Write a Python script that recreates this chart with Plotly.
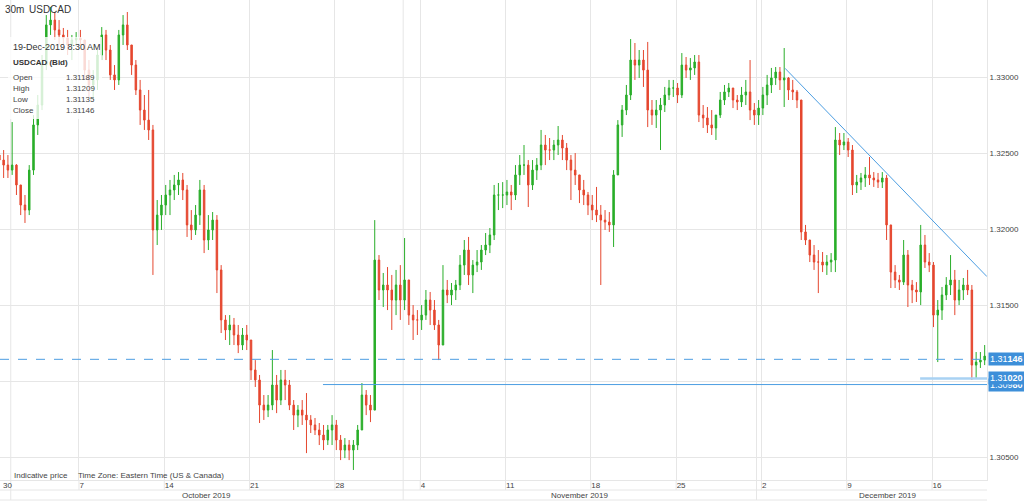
import plotly.graph_objects as go

# USDCAD bid, resampled to 6-hour bars.
# Bars start Sunday 17:00 ET, 20 bars per trading week, weekends removed.
# One row per week (30 Sep ... 16 Dec); the last week stops at 19 Dec 08:30.
FIRST_OPEN = 1.32480

high = [
    1.32523, 1.32536, 1.32556, 1.32523, 1.32490, 1.32707, 1.32430, 1.32293, 1.32227, 1.32424, 1.32753, 1.32885, 1.33148, 1.33411, 1.33464, 1.33431, 1.33378, 1.33326, 1.33313, 1.33280,
    1.33299, 1.33313, 1.33247, 1.33115, 1.33049, 1.33181, 1.33332, 1.33313, 1.33214, 1.33082, 1.33313, 1.33411, 1.33431, 1.33214, 1.33115, 1.32984, 1.32885, 1.32918, 1.32688, 1.32194,
    1.32227, 1.32293, 1.32326, 1.32359, 1.32378, 1.32372, 1.32293, 1.32128, 1.32161, 1.32326, 1.32293, 1.32095, 1.32115, 1.32095, 1.31766, 1.31437, 1.31437, 1.31418, 1.31372, 1.31352,
    1.31372, 1.31273, 1.31141, 1.31043, 1.30911, 1.30911, 1.31207, 1.31043, 1.31076, 1.31076, 1.31010, 1.30878, 1.30845, 1.30878, 1.30924, 1.30779, 1.30760, 1.30727, 1.30714, 1.30714,
    1.30779, 1.30747, 1.30648, 1.30628, 1.30615, 1.30615, 1.30714, 1.30990, 1.30944, 1.30911, 1.32062, 1.31832, 1.31714, 1.31753, 1.31701, 1.31734, 1.31766, 1.31944, 1.31668, 1.31503,
    1.31470, 1.31503, 1.31602, 1.31589, 1.31536, 1.31405, 1.31766, 1.31668, 1.31648, 1.31668, 1.31832, 1.31931, 1.31951, 1.31799, 1.31865, 1.31898, 1.31977, 1.32010, 1.32293, 1.32306,
    1.32312, 1.32326, 1.32293, 1.32424, 1.32490, 1.32556, 1.32457, 1.32457, 1.32470, 1.32655, 1.32622, 1.32602, 1.32589, 1.32681, 1.32622, 1.32569, 1.32490, 1.32503, 1.32359, 1.32326,
    1.32247, 1.32227, 1.32280, 1.32161, 1.32128, 1.32115, 1.32391, 1.32720, 1.32819, 1.32951, 1.33253, 1.33227, 1.33181, 1.33181, 1.33234, 1.32852, 1.32852, 1.32865, 1.32938, 1.32984,
    1.32984, 1.32964, 1.33161, 1.33135, 1.33128, 1.33148, 1.33148, 1.32819, 1.32806, 1.32786, 1.32753, 1.32905, 1.32951, 1.32964, 1.32931, 1.32885, 1.32938, 1.32984, 1.33115, 1.32832,
    1.32852, 1.32938, 1.33017, 1.33063, 1.33069, 1.33069, 1.33194, 1.33003, 1.32984, 1.32918, 1.32852, 1.32030, 1.31931, 1.31898, 1.31865, 1.31852, 1.31832, 1.31845, 1.32674, 1.32635,
    1.32635, 1.32602, 1.32556, 1.32359, 1.32372, 1.32411, 1.32477, 1.32378, 1.32372, 1.32378, 1.32359, 1.32030, 1.31766, 1.31701, 1.31931, 1.31865, 1.31668, 1.31654, 1.32030, 1.31964,
    1.31845, 1.31786, 1.31536, 1.31622, 1.31687, 1.31832, 1.31734, 1.31668, 1.31681, 1.31734, 1.31635, 1.31194, 1.31194, 1.31240, 1.31240,
]

low = [
    1.32424, 1.32405, 1.32326, 1.32339, 1.32339, 1.32359, 1.32227, 1.32095, 1.32043, 1.32095, 1.32359, 1.32622, 1.32786, 1.33049, 1.33280, 1.33247, 1.33214, 1.33181, 1.33148, 1.33115,
    1.33214, 1.33214, 1.32984, 1.32872, 1.32852, 1.32918, 1.33115, 1.33115, 1.32984, 1.32918, 1.32951, 1.33214, 1.33181, 1.33017, 1.32885, 1.32688, 1.32655, 1.32589, 1.31701, 1.31898,
    1.31997, 1.32095, 1.32095, 1.32194, 1.32227, 1.32194, 1.31951, 1.31931, 1.31964, 1.32030, 1.31845, 1.31865, 1.31931, 1.31582, 1.31319, 1.31273, 1.31240, 1.31240, 1.31187, 1.31207,
    1.31207, 1.31010, 1.30964, 1.30727, 1.30747, 1.30766, 1.30812, 1.30792, 1.30845, 1.30878, 1.30812, 1.30681, 1.30700, 1.30714, 1.30529, 1.30661, 1.30648, 1.30582, 1.30549, 1.30582,
    1.30582, 1.30549, 1.30483, 1.30496, 1.30483, 1.30418, 1.30549, 1.30681, 1.30779, 1.30733, 1.30812, 1.31536, 1.31490, 1.31470, 1.31339, 1.31437, 1.31405, 1.31470, 1.31372, 1.31273,
    1.31306, 1.31339, 1.31405, 1.31372, 1.31339, 1.31141, 1.31240, 1.31516, 1.31503, 1.31536, 1.31602, 1.31701, 1.31635, 1.31582, 1.31720, 1.31734, 1.31832, 1.31845, 1.31931, 1.32128,
    1.32141, 1.32161, 1.32128, 1.32194, 1.32293, 1.32359, 1.32148, 1.32260, 1.32326, 1.32391, 1.32424, 1.32457, 1.32457, 1.32490, 1.32457, 1.32391, 1.32194, 1.32293, 1.32174, 1.32161,
    1.32095, 1.32062, 1.32049, 1.31635, 1.31997, 1.31984, 1.31885, 1.32359, 1.32609, 1.32753, 1.32852, 1.32984, 1.32997, 1.32938, 1.32674, 1.32688, 1.32668, 1.32523, 1.32773, 1.32852,
    1.32872, 1.32832, 1.32865, 1.32997, 1.32984, 1.33017, 1.32707, 1.32668, 1.32635, 1.32622, 1.32589, 1.32734, 1.32819, 1.32872, 1.32799, 1.32786, 1.32806, 1.32819, 1.32720, 1.32688,
    1.32688, 1.32753, 1.32819, 1.32898, 1.32951, 1.32918, 1.32806, 1.32852, 1.32852, 1.32799, 1.31931, 1.31898, 1.31786, 1.31734, 1.31582, 1.31720, 1.31701, 1.31720, 1.31720, 1.32490,
    1.32523, 1.32477, 1.32227, 1.32240, 1.32260, 1.32280, 1.32293, 1.32280, 1.32273, 1.32273, 1.31931, 1.31615, 1.31615, 1.31602, 1.31635, 1.31490, 1.31516, 1.31523, 1.31503, 1.31747,
    1.31720, 1.31358, 1.31128, 1.31405, 1.31536, 1.31569, 1.31437, 1.31503, 1.31536, 1.31569, 1.31010, 1.31023, 1.31089, 1.31108, 1.31108,
]

close = [
    1.32470, 1.32490, 1.32457, 1.32424, 1.32391, 1.32424, 1.32293, 1.32161, 1.32128, 1.32391, 1.32688, 1.32819, 1.33082, 1.33346, 1.33378, 1.33313, 1.33280, 1.33260, 1.33214, 1.33247,
    1.33260, 1.33247, 1.33049, 1.32951, 1.32984, 1.33148, 1.33280, 1.33181, 1.33017, 1.32984, 1.33280, 1.33346, 1.33214, 1.33082, 1.32918, 1.32786, 1.32720, 1.32655, 1.31997, 1.32095,
    1.32161, 1.32227, 1.32260, 1.32293, 1.32326, 1.32260, 1.32030, 1.31997, 1.32095, 1.32260, 1.31931, 1.31997, 1.32062, 1.31734, 1.31405, 1.31339, 1.31372, 1.31306, 1.31240, 1.31306,
    1.31273, 1.31076, 1.31010, 1.30845, 1.30812, 1.30845, 1.30977, 1.30878, 1.31010, 1.30977, 1.30845, 1.30779, 1.30812, 1.30779, 1.30747, 1.30714, 1.30681, 1.30648, 1.30615, 1.30681,
    1.30714, 1.30615, 1.30549, 1.30582, 1.30549, 1.30582, 1.30681, 1.30911, 1.30845, 1.30812, 1.31799, 1.31602, 1.31635, 1.31602, 1.31536, 1.31635, 1.31536, 1.31668, 1.31437, 1.31405,
    1.31405, 1.31437, 1.31536, 1.31470, 1.31372, 1.31240, 1.31602, 1.31569, 1.31602, 1.31635, 1.31766, 1.31865, 1.31701, 1.31766, 1.31786, 1.31865, 1.31898, 1.31964, 1.32227, 1.32227,
    1.32227, 1.32247, 1.32227, 1.32359, 1.32424, 1.32424, 1.32293, 1.32391, 1.32424, 1.32556, 1.32523, 1.32523, 1.32556, 1.32589, 1.32536, 1.32457, 1.32391, 1.32359, 1.32260, 1.32227,
    1.32161, 1.32128, 1.32095, 1.32062, 1.32049, 1.32030, 1.32359, 1.32688, 1.32786, 1.32885, 1.33115, 1.33082, 1.33115, 1.33049, 1.32786, 1.32753, 1.32786, 1.32819, 1.32885, 1.32931,
    1.32931, 1.32885, 1.33082, 1.33049, 1.33063, 1.33102, 1.32753, 1.32734, 1.32688, 1.32668, 1.32753, 1.32852, 1.32905, 1.32931, 1.32852, 1.32839, 1.32885, 1.32905, 1.32786, 1.32753,
    1.32799, 1.32885, 1.32951, 1.32997, 1.33036, 1.32984, 1.32997, 1.32918, 1.32905, 1.32852, 1.31984, 1.31931, 1.31832, 1.31786, 1.31786, 1.31766, 1.31786, 1.31799, 1.32589, 1.32556,
    1.32576, 1.32523, 1.32293, 1.32312, 1.32339, 1.32359, 1.32339, 1.32326, 1.32312, 1.32339, 1.32030, 1.31720, 1.31668, 1.31654, 1.31832, 1.31635, 1.31602, 1.31589, 1.31898, 1.31786,
    1.31766, 1.31437, 1.31470, 1.31569, 1.31635, 1.31668, 1.31536, 1.31602, 1.31635, 1.31602, 1.31108, 1.31128, 1.31141, 1.31167, 1.31146,
]

# x axis: 1 unit = 1 trading day, 0 = Mon 30 Sep 00:00 ET
week_ticks = [0, 5, 10, 15, 20, 25, 30, 35, 40, 45, 50, 55]
week_labels = ["30", "7", "14", "21", "28", "4", "11", "18", "25", "2", "9", "16"]
month_starts = [1.0, 24.0, 44.71]
month_names = ["October 2019", "November 2019", "December 2019"]
month_centres = [12.5, 34.36, 52.4]

price_ticks = [1.305, 1.310, 1.315, 1.320, 1.325, 1.330]

last_price = 1.31146
support_lines = [(19.3, 1.30980), (54.3, 1.31020)]   # (start day, level)
trend_line = [(46.38, 1.33061), (58.22, 1.31690)]

info_stamp = "19-Dec-2019 8:30 AM"
info_title = "USDCAD (Bid)"
info_labels = ["Open", "High", "Low", "Close"]
info_values = ["1.31189", "1.31209", "1.31135", "1.31146"]

# ── styling ───────────────────────────────────────────────────────────────
FONT = "Liberation Sans, Arial, sans-serif"
GREEN = "#2aae2a"
RED = "#e5472f"
LINE_BLUE = "#4c9ee2"
TAG_BLUE = "#3d8fd9"
GRID = "#e6e6e6"
TEXT = "#444444"

X_RANGE = [0.37, 58.22]
Y_RANGE = [1.30352, 1.33510]
PLOT_W, PLOT_H = 987, 480


def px(x):
    return x / PLOT_W


def py(y):
    return 1 - y / PLOT_H


bars_x = [0.25 * i - 1 / 6 for i in range(len(close))]
opens = [FIRST_OPEN] + close[:-1]

fig = go.Figure(
    go.Candlestick(
        x=bars_x,
        open=opens,
        high=high,
        low=low,
        close=close,
        increasing=dict(line=dict(color=GREEN, width=1), fillcolor=GREEN),
        decreasing=dict(line=dict(color=RED, width=1), fillcolor=RED),
        whiskerwidth=0,
        hoverinfo="skip",
    )
)

shapes = []
# gridlines carried down through the day-number row
for t in week_ticks[1:]:
    shapes.append(dict(type="line", xref="x", yref="paper", x0=t, x1=t,
                       y0=0, y1=-10 / PLOT_H, line=dict(color=GRID, width=1)))
for m in month_starts:
    shapes.append(dict(type="line", xref="x", yref="paper", x0=m, x1=m,
                       y0=1, y1=-20 / PLOT_H, line=dict(color=GRID, width=1), layer="below"))
for yy in (-10 / PLOT_H, -20 / PLOT_H):
    shapes.append(dict(type="line", xref="paper", yref="paper", x0=0, x1=1,
                       y0=yy, y1=yy, line=dict(color=GRID, width=1)))

# drawing tools
shapes.append(dict(type="line", xref="paper", yref="y", x0=0, x1=1,
                   y0=last_price, y1=last_price,
                   line=dict(color=LINE_BLUE, width=1, dash="dash")))
shapes.append(dict(type="line", xref="x", yref="y",
                   x0=support_lines[0][0], x1=X_RANGE[1],
                   y0=support_lines[0][1], y1=support_lines[0][1],
                   line=dict(color=LINE_BLUE, width=1)))
shapes.append(dict(type="line", xref="x", yref="y",
                   x0=support_lines[1][0], x1=X_RANGE[1],
                   y0=support_lines[1][1], y1=support_lines[1][1],
                   line=dict(color="#a9d2f3", width=2.5)))
shapes.append(dict(type="line", xref="x", yref="y",
                   x0=trend_line[0][0], x1=trend_line[1][0],
                   y0=trend_line[0][1], y1=trend_line[1][1],
                   line=dict(color=LINE_BLUE, width=1)))

# semi-transparent OHLC info panel
shapes.append(dict(type="rect", xref="paper", yref="paper",
                   x0=px(8), x1=px(102), y0=py(119), y1=py(37),
                   fillcolor="rgba(255,255,255,0.8)", line=dict(width=0)))

ann = []


def text(x, y, s, size=8, color=TEXT, anchor="left", bold=False):
    ann.append(dict(xref="paper", yref="paper", x=px(x), y=py(y),
                    text=f"<b>{s}</b>" if bold else s, showarrow=False,
                    xanchor=anchor, yanchor="middle",
                    font=dict(family=FONT, size=size, color=color)))


text(3, 9, "30m", size=10, color="#333333")
text(27, 9, "USDCAD", size=10, color="#333333")
text(11, 47, info_stamp, size=9, color="#333333")
text(11, 63, info_title, size=8, color="#333333", bold=True)
for k, (lab, val) in enumerate(zip(info_labels, info_values)):
    yy = 77 + k * 11.3
    text(11, yy, lab)
    text(97, yy, val, anchor="right")
text(12, 475, "Indicative price", size=8)
text(76, 475, "Time Zone: Eastern Time (US & Canada)", size=8)
text(1, 485, week_labels[0], size=8)

for name, c in zip(month_names, month_centres):
    ann.append(dict(xref="x", yref="paper", x=c, y=-15 / PLOT_H, text=name,
                    showarrow=False, xanchor="center", yanchor="middle",
                    font=dict(family=FONT, size=8, color=TEXT)))

# price tags on the right edge
tags = [
    (support_lines[0][1], "1.309<b>80</b>"),
    (support_lines[1][1], "1.31<b>020</b>"),
    (last_price, "1.31<b>146</b>"),
]
for level, label in tags:
    ann.append(dict(xref="paper", yref="y", x=px(988), y=level, text=label,
                    showarrow=False, xanchor="left", yanchor="middle",
                    bgcolor=TAG_BLUE, borderpad=1, width=36, align="left",
                    font=dict(family=FONT, size=9, color="white")))

fig.update_layout(
    width=1024,
    height=501,
    margin=dict(l=0, r=37, t=0, b=21, pad=0),
    paper_bgcolor="white",
    plot_bgcolor="white",
    showlegend=False,
    boxgap=0.5,
    xaxis=dict(
        range=X_RANGE,
        rangeslider=dict(visible=False),
        tickvals=week_ticks,
        ticktext=week_labels,
        ticklabelposition="outside right",
        ticklabelstandoff=-3,
        tickfont=dict(family=FONT, size=8, color=TEXT),
        showgrid=True,
        gridcolor=GRID,
        zeroline=False,
        showline=True,
        linecolor=GRID,
        ticks="",
    ),
    yaxis=dict(
        range=Y_RANGE,
        side="right",
        tickvals=price_ticks,
        tickformat=".5f",
        tickfont=dict(family=FONT, size=8, color=TEXT),
        showgrid=True,
        gridcolor=GRID,
        zeroline=False,
        showline=True,
        linecolor=GRID,
        ticks="",
    ),
    shapes=shapes,
    annotations=ann,
)

# the page's default 8px body margin would push the figure off its frame
fig.write_html(
    "out.html",
    config={"displayModeBar": False},
    post_script="document.body.style.margin='0';",
)
